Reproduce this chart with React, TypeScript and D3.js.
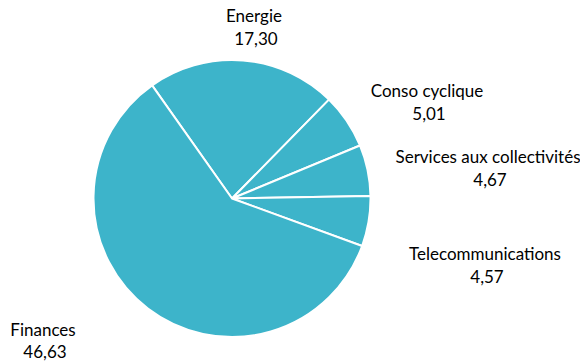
import React from "react";
import * as d3 from "d3";

const categories = ["Energie", "Conso cyclique", "Services aux collectivités", "Telecommunications", "Finances"];
const values = [17.30, 5.01, 4.67, 4.57, 46.63];
const valueLabels = ["17,30", "5,01", "4,67", "4,57", "46,63"];
const labelPositions: [number, number][] = [
  [254, 22],
  [427, 97],
  [488, 163],
  [485, 260],
  [43, 335.5],
];

export default function App() {
  const width = 580;
  const height = 364;
  const cx = 232;
  const cy = 198.5;
  const r = 138.5;
  const data = categories.map((c, i) => ({ c, v: values[i], i }));
  const pie = d3
    .pie<any>()
    .value((d) => d.v)
    .sort(null)
    .startAngle(-0.615)
    .endAngle(-0.615 + Math.PI * 2);
  const arc = d3.arc<any>().innerRadius(0).outerRadius(r);
  const arcs = pie(data);
  return (
    <svg width={width} height={height} style={{ position: "absolute", left: 0, top: 0 }}>
      <rect width={width} height={height} fill="#fff" />
      <g transform={`translate(${cx},${cy})`}>
        {arcs.map((a, i) => (
          <path key={i} d={arc(a) || ""} fill="#3DB4CA" stroke="#fff" strokeWidth={2} strokeLinejoin="round" />
        ))}
      </g>
      {data.map((d, i) => (
        <text
          key={i}
          x={labelPositions[i][0]}
          textAnchor="middle"
          fontFamily="Lato, 'Open Sans', sans-serif"
          fontSize={17}
          fill="#000"
        >
          <tspan x={labelPositions[i][0]} y={labelPositions[i][1]}>{d.c}</tspan>
          <tspan x={labelPositions[i][0] + 2} y={labelPositions[i][1] + 22.5}>{valueLabels[i]}</tspan>
        </text>
      ))}
    </svg>
  );
}
